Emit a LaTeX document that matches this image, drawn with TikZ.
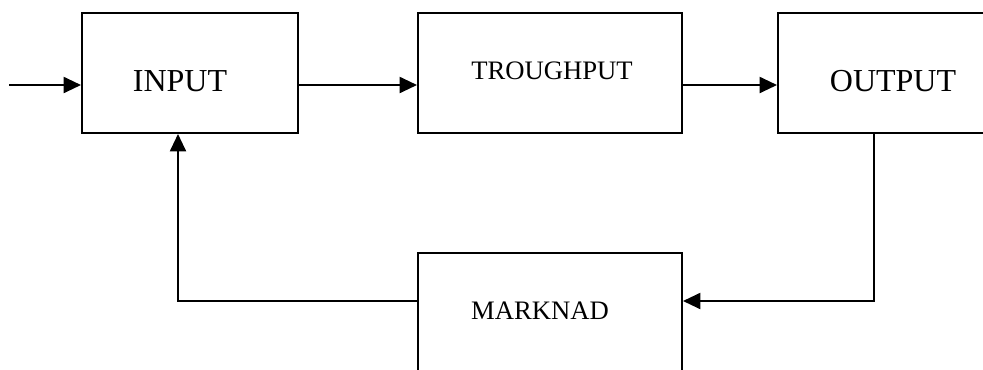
\documentclass[tikz,border=0pt]{standalone}
\usepackage{fontspec}
\setmainfont{Liberation Serif}
\usetikzlibrary{positioning, arrows.meta}

\begin{document}
\begin{tikzpicture}[
    x=0.75pt, y=-0.75pt,
    arrow/.style={-{Triangle[length=13pt, width=12pt]}, line width=1.5pt},
    blok/.style={draw, line width=1.5pt, minimum height=90pt, inner sep=0pt},
    big/.style={font=\fontsize{24}{28}\selectfont},
    small/.style={font=\fontsize{20}{24}\selectfont}
]
    \useasboundingbox (0,0) rectangle (983,369);

    % Boxes
    \node[blok, minimum width=162pt] (input) at (190,73) {};
    \node[blok, minimum width=198pt] (through) at (550,73) {};
    \node[blok, minimum width=172.5pt] (output) at (893,73) {};
    \node[blok, minimum width=198pt] (market) at (550,313) {};

    % Labels
    \node[big] (input-txt) at (180,81) {INPUT};
    \node[small] (through-txt) at (552,71) {TROUGHPUT};
    \node[big] (output-txt) at (893,81) {OUTPUT};
    \node[small] (market-txt) at (540,311) {MARKNAD};

    % Forward path
    \coordinate (start) at (9,85);
    \draw[arrow] (start) -- (start -| input.west);
    \draw[arrow] ([yshift=-9pt]input.east) -- ([yshift=-9pt]through.west);
    \draw[arrow] ([yshift=-9pt]through.east) -- ([yshift=-9pt]output.west);

    % Feedback path
    \draw[arrow] ([xshift=-14.25pt]output.south) |- ([yshift=9pt]market.east);
    \draw[arrow] ([yshift=9pt]market.west) -| ([xshift=-9pt]input.south);

\end{tikzpicture}
\end{document}
